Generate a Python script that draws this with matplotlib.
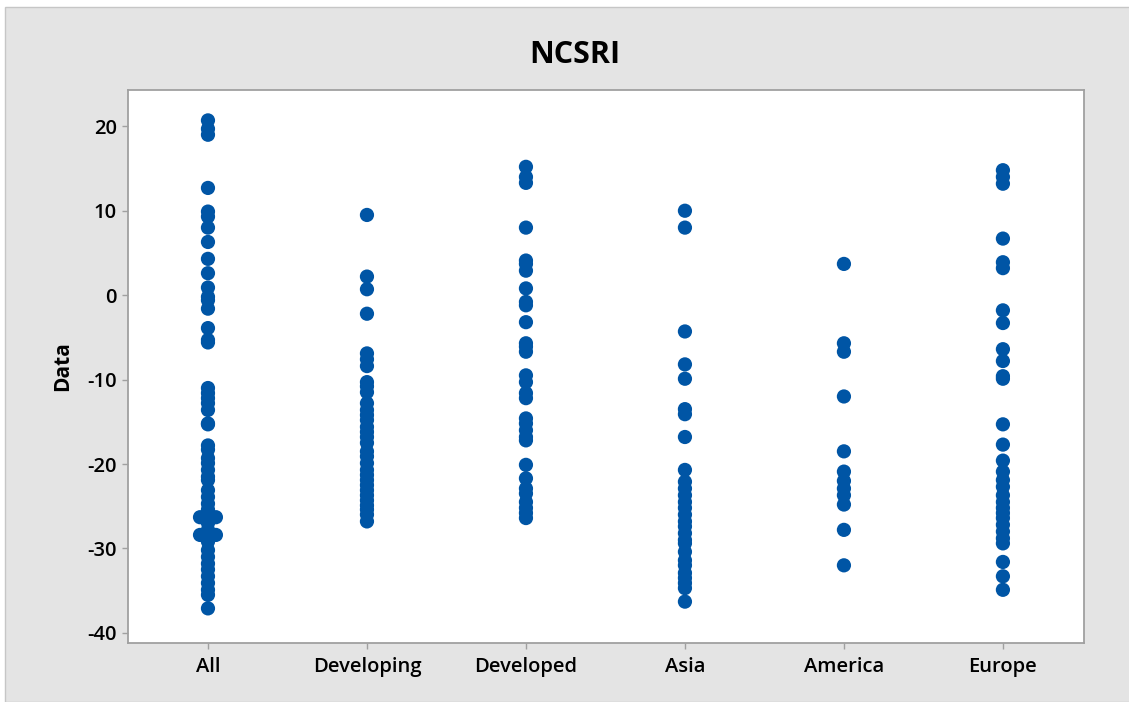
import numpy as np
import matplotlib.pyplot as plt
from matplotlib.patches import Rectangle

categories = ["All", "Developing", "Developed", "Asia", "America", "Europe"]

all_vals = [20.7, 19.7, 19.0, 12.7, 9.9, 9.3, 8.0, 6.3, 4.3, 2.6, 0.9, -0.2, -0.6, -1.6,
            -3.9, -5.3, -5.6, -11.0, -11.6, -12.2, -12.8, -13.6, -15.2, -15.3, -17.8,
            -18.3, -19.3, -19.9, -20.7, -21.5, -21.9, -23.1, -23.9, -24.7, -25.4,
            -26.3, -26.3, -26.3, -27.0, -27.8, -28.4, -28.4, -28.4, -29.2, -30.2,
            -31.0, -31.8, -32.5, -33.3, -34.1, -34.9, -35.5, -37.1]
developing = [9.5, 2.2, 0.7, -2.2, -6.9, -7.6, -8.4, -10.3, -10.8, -11.5, -12.8, -13.6,
              -14.2, -14.8, -15.6, -16.2, -16.8, -17.5, -18.5, -19.1, -19.9, -20.7,
              -21.3, -21.9, -22.5, -23.1, -23.7, -24.3, -24.9, -25.4, -26.0, -26.8]
developed = [15.2, 14.0, 13.3, 8.0, 4.1, 3.7, 2.9, 0.8, -0.8, -1.2, -3.2, -5.7, -6.1,
             -6.7, -9.5, -10.3, -11.6, -12.2, -14.6, -15.2, -16.0, -16.8, -17.2, -20.1,
             -21.7, -22.9, -23.5, -24.5, -25.2, -25.8, -26.4]
asia = [10.0, 8.0, -4.3, -8.2, -9.9, -13.5, -14.1, -16.8, -20.7, -22.1, -22.9, -23.7,
        -24.5, -25.2, -26.0, -26.8, -27.4, -28.2, -29.0, -29.4, -30.4, -31.4, -32.0,
        -32.9, -33.5, -34.1, -34.7, -36.3]
america = [3.7, -5.7, -6.7, -12.0, -18.5, -20.9, -22.0, -22.9, -23.7, -24.8, -27.8, -32.0]
europe = [14.8, 14.0, 13.2, 6.7, 3.9, 3.2, -1.8, -3.3, -6.4, -7.8, -9.6, -9.9, -15.3,
          -17.7, -19.6, -20.9, -21.9, -22.7, -23.7, -24.5, -25.2, -25.8, -26.4, -27.2,
          -28.0, -28.8, -29.4, -31.6, -33.3, -34.9]

series = [all_vals, developing, developed, asia, america, europe]

plt.rcParams["font.family"] = ["Open Sans", "DejaVu Sans"]
plt.rcParams["axes.unicode_minus"] = False

fig = plt.figure(figsize=(11.29, 7.02), dpi=100)
fig.patch.set_facecolor("white")
# grey Minitab-style panel behind the axes
fig.patches.append(Rectangle((5 / 1129, 0), 1, 1 - 7 / 702, transform=fig.transFigure,
                             facecolor="#e4e4e4", edgecolor="#c6c6c6", lw=1, zorder=-5))

ax = fig.add_axes([128 / 1129, 1 - 643 / 702, (1084 - 128) / 1129, (643 - 90) / 702])
ax.set_facecolor("white")

dot_color = "#0055a5"
for i, vals in enumerate(series):
    vals = np.array(vals)
    xs = np.full(len(vals), float(i))
    # spread tied values side by side
    for v in np.unique(vals):
        idx = np.where(vals == v)[0]
        if len(idx) > 1:
            xs[idx] = i + (np.arange(len(idx)) - (len(idx) - 1) / 2) * 0.05
    ax.scatter(xs, vals, s=105, color=dot_color, edgecolors="none", zorder=3)

ax.set_xlim(-0.503, 5.51)
ax.set_ylim(-41.2, 24.3)
ax.set_xticks(range(len(categories)))
ax.set_xticklabels(categories)
ax.set_yticks([20, 10, 0, -10, -20, -30, -40])

for side in ax.spines.values():
    side.set_color("#a0a0a0")
    side.set_linewidth(1.3)

ax.tick_params(axis="both", direction="out", length=4, width=1, color="#a0a0a0",
               labelsize=14.5, labelcolor="black", pad=4)
ax.tick_params(axis="x", pad=6)
for lab in ax.get_xticklabels() + ax.get_yticklabels():
    lab.set_fontweight("semibold")

ax.set_ylabel("Data", fontsize=15, fontweight="bold", labelpad=10)
fig.text(575 / 1129, 1 - 55 / 702, "NCSRI", ha="center", va="center",
         fontsize=22, fontweight="bold")

plt.savefig("out.png", dpi=100)
